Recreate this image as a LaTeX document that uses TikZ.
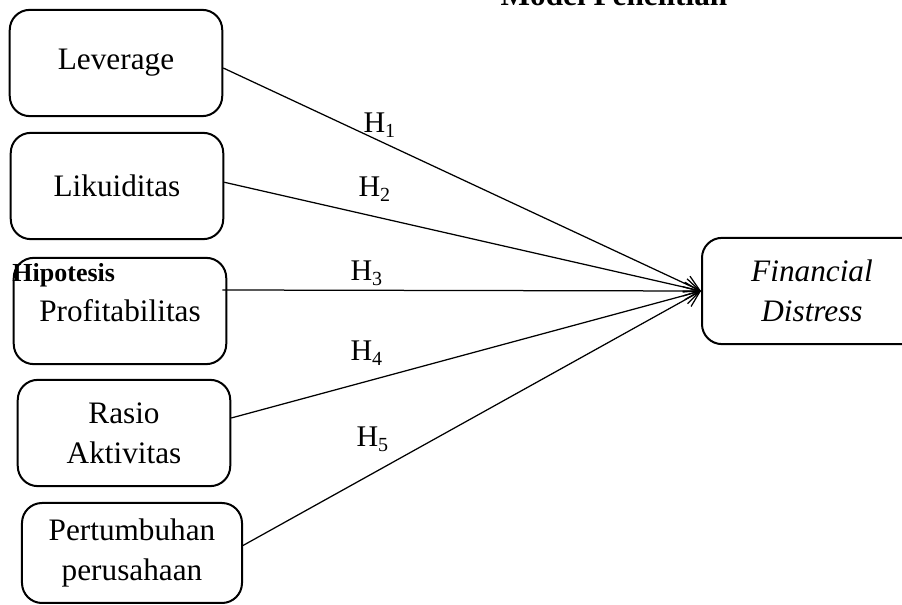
\documentclass[tikz,border=0pt]{standalone}
\usepackage{fontspec}
\setmainfont{Liberation Serif}
\usetikzlibrary{arrows.meta}

\tikzset{
    varbox/.style={draw, line width=0.8pt, rounded corners=8pt, align=center,
        minimum width=85pt, minimum height=42.5pt, inner sep=0pt,
        font=\fontsize{12.5}{16}\selectfont},
    panah/.style={line width=0.5pt, -{Straight Barb[length=6pt,width=7pt]}},
    hlabel/.style={anchor=base west, inner sep=0pt, font=\fontsize{12}{14}\selectfont}
}

\begin{document}
\begin{tikzpicture}[x=0.4pt, y=-0.4pt]
    % Ukuran gambar
    \useasboundingbox (0,0) rectangle (902,605);
    \clip (0,0) rectangle (902,605);

    % Judul (terpotong di atas)
    \node[anchor=base, inner sep=0pt, font=\bfseries\fontsize{12.5}{15}\selectfont]
        (judul) at (614,6) {Model Penelitian};

    % Variabel independen
    \node[varbox] (lev) at (116,63) {Leverage};
    \node[varbox] (lik) at (117,186) {Likuiditas};
    \node[varbox] (prof) at (120,311) {Profitabilitas};
    \node[varbox] (rasio) at (124,433) {Rasio\\Aktivitas};
    \node[varbox, minimum width=88pt, minimum height=40pt] (tumbuh) at (132,553) {Pertumbuhan\\perusahaan};

    % Variabel dependen
    \node[varbox, minimum width=88pt, font=\itshape\fontsize{12.5}{16}\selectfont]
        (fd) at (812,291) {Financial\\Distress};

    % Label sub judul
    \node[anchor=base west, inner sep=0pt, font=\bfseries\fontsize{10.4}{12}\selectfont]
        (hipo) at (12,282) {Hipotesis};

    % Hubungan hipotesis
    \draw[panah] ([yshift=-2pt]lev.east) -- (fd.west);
    \draw[panah] ([yshift=1.5pt]lik.east) -- (fd.west);
    \draw[panah] ([xshift=-2pt,yshift=8.4pt]prof.east) -- (fd.west);
    \draw[panah] ([yshift=6pt]rasio.east) -- (fd.west);
    \draw[panah] ([yshift=3pt]tumbuh.east) -- (fd.west);

    % Label H
    \node[hlabel] (h1) at (363,133) {H\textsubscript{1}};
    \node[hlabel] (h2) at (358,197) {H\textsubscript{2}};
    \node[hlabel] (h3) at (350,281) {H\textsubscript{3}};
    \node[hlabel] (h4) at (350,361) {H\textsubscript{4}};
    \node[hlabel] (h5) at (356,447) {H\textsubscript{5}};
\end{tikzpicture}
\end{document}
